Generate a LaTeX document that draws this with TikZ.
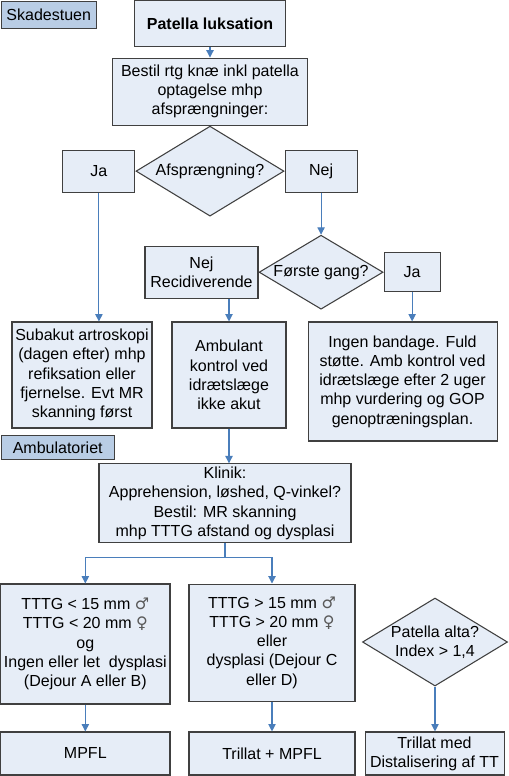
\documentclass[tikz,border=0pt]{standalone}
\usepackage{fontspec}
\setmainfont{Liberation Sans}
\newfontfamily\symfont{DejaVu Sans}
\usepackage{tikz}
\usetikzlibrary{arrows.meta,positioning,shapes.geometric}
\definecolor{boxfill}{HTML}{E6EDF7}
\definecolor{lblfill}{HTML}{B9CDE5}
\definecolor{boxline}{HTML}{404040}
\definecolor{arrblue}{HTML}{4A7EBB}
\newcommand{\male}{{\symfont\color{black!65}♂}}
\newcommand{\female}{{\symfont\color{black!65}♀}}

\begin{document}
\begin{tikzpicture}[x=1pt, y=-1pt,
        box/.style={draw=boxline, line width=0.8pt, fill=boxfill, align=center, inner sep=1pt,
                    font=\fontsize{12pt}{14.4pt}\selectfont},
        lbl/.style={box, fill=lblfill, anchor=north west},
        dia/.style={diamond, aspect=1.65, draw=boxline, line width=0.8pt, fill=boxfill, align=center, inner sep=0pt,
                    font=\fontsize{12pt}{14.4pt}\selectfont},
        arr/.style={-{Triangle[length=5.5pt,width=5.5pt]}, line width=0.8pt, arrblue}]
        \useasboundingbox (0,0) rectangle (381,582);
        % skadestuen
        \node[lbl, minimum width=71.25pt, minimum height=20.25pt] (skade) at (0.5,0.5) {Skadestuen};
        \node[box, minimum width=113.25pt, minimum height=34.5pt] (patella) at (157.5,17.5) {\textbf{Patella luksation}};
        \node[box, minimum width=146.25pt, minimum height=50.25pt, below=8pt of patella] (bestil)
              {Bestil rtg knæ inkl patella\\optagelse mhp\\afsprængninger:};
        \node[dia, minimum width=111pt, minimum height=67.5pt, below=0pt of bestil] (afsp) {Afsprængning?};
        \node[box, minimum width=54pt, minimum height=31.5pt, left=0pt of afsp] (ja1) {Ja};
        \node[box, minimum width=54pt, minimum height=31.5pt, right=0pt of afsp] (nej1) {Nej};
        \node[dia, minimum width=93pt, minimum height=55.5pt, below=31.5pt of nej1] (forste) {Første gang?};
        \node[box, minimum width=84.75pt, minimum height=39pt, left=0pt of forste] (recid) {Nej\\Recidiverende};
        \node[box, minimum width=42pt, minimum height=29.25pt, right=0pt of forste] (ja2) {Ja};
        \node[box, minimum width=105pt, minimum height=79.5pt] (subakut) at (61.5,281.25)
              {Subakut artroskopi\\(dagen efter) mhp\\refiksation eller\\fjernelse. Evt MR\\skanning først};
        \node[box, minimum width=85.5pt, minimum height=79.5pt] (ambulant) at (171.75,281.25)
              {Ambulant\\kontrol ved\\idrætslæge\\ikke akut};
        \node[box, minimum width=141.75pt, minimum height=89.25pt] (ingen) at (301.9,286.1)
              {Ingen bandage. Fuld\\støtte. Amb kontrol ved\\idrætslæge efter 2 uger\\mhp vurdering og GOP\\genoptræningsplan.};
        % ambulatoriet
        \node[lbl, minimum width=84.75pt, minimum height=18pt] (ambu) at (0.5,326.25) {Ambulatoriet};
        \node[box, minimum width=189pt, minimum height=59.25pt] (klinik) at (168.75,377.5)
              {Klinik:\\Apprehension, løshed, Q-vinkel?\\Bestil: MR skanning\\mhp TTTG afstand og dysplasi};
        \node[box, minimum width=127pt, minimum height=90pt] (tttgless) at (64,483)
              {TTTG < 15 mm \male\\TTTG < 20 mm \female\\og\\Ingen eller let~ dysplasi\\(Dejour A eller B)};
        \node[box, minimum width=124.5pt, minimum height=87.75pt] (tttgmore) at (204,481.9)
              {TTTG > 15 mm \male\\TTTG > 20 mm \female\\eller\\dysplasi (Dejour C\\eller D)};
        \node[dia, minimum width=108.75pt, minimum height=66pt] (alta) at (326.25,481.5) {Patella alta?\\Index > 1,4};
        \node[box, minimum width=127pt, minimum height=32.25pt] (mpfl) at (64,565.1) {MPFL};
        \node[box, minimum width=124.5pt, minimum height=32.25pt] (trillat) at (204,565.1) {Trillat + MPFL};
        \node[box, minimum width=104.25pt, minimum height=32.25pt] (distal) at (325.9,565.1)
              {Trillat med\\Distalisering af TT};
        % pile
        \draw[arr] (patella) -- (bestil);
        \draw[arr] (ja1.south) -- (ja1.south |- subakut.north);
        \draw[arr] (nej1) -- (forste);
        \draw[arr] (ambulant.north |- recid.south) -- (ambulant.north);
        \draw[arr] (ja2.south) -- (ja2.south |- ingen.north);
        \draw[arr] (ambulant.south) -- (ambulant.south |- klinik.north);
        \draw[arr] (klinik.south) -- ++(0,10.5) -| (tttgless.north);
        \draw[arr] (klinik.south) -- ++(0,10.5) -| (tttgmore.north);
        \draw[arr] (tttgless) -- (mpfl);
        \draw[arr] (tttgmore) -- (trillat);
        \draw[arr] (alta.south) -- (alta.south |- distal.north);
\end{tikzpicture}
\end{document}
